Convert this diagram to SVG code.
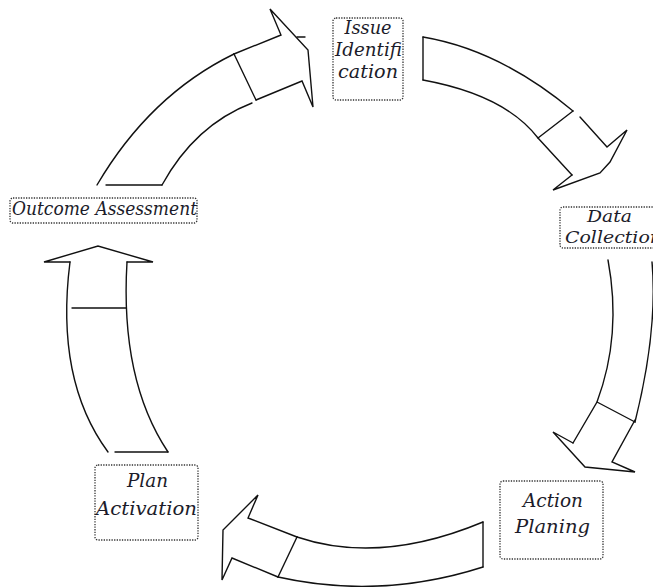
<svg xmlns="http://www.w3.org/2000/svg" width="653" height="587" viewBox="0 0 653 587">
<style>
.a{fill:none;stroke:#111;stroke-width:1.4;stroke-linejoin:miter;stroke-linecap:round}
.b{fill:#fff;stroke:#333;stroke-width:1.3;stroke-dasharray:1.3 1.3}
.t{font-family:"DejaVu Serif","Liberation Serif",serif;font-style:italic;font-size:18px;fill:#1c1c2a}
.s{font-size:17px}
</style>
<rect width="653" height="587" fill="#fff"/>
<g id="connectors">
<g id="arrow-top-left">
<path class="a" d="M97,185 Q150,95 234,54"/>
<path class="a" d="M162,185 Q195,125 252,103"/>
<path class="a" d="M106,185 L162,185"/>
<path class="a" d="M234,54 L256,100"/>
<path class="a" d="M234,54 L281,35 L270,9 L308,50 L313,107 L302,81 L256,100"/>
<path class="a" d="M297,37 L305,37"/>
</g>
<g id="arrow-top-right">
<path class="a" d="M423,37 L423,80"/>
<path class="a" d="M423,37 Q500,50 573,111"/>
<path class="a" d="M423,80 Q505,95 538,138 L572,175"/>
<path class="a" d="M538,138 L573,111"/>
<path class="a" d="M572,175 L553,190 L600,173 L610,162 L627,130 L607,147 L580,117"/>
</g>
<g id="arrow-right">
<path class="a" d="M608,260 Q622,335 597,402 L573,443"/>
<path class="a" d="M652,262 Q658,330 635,422"/>
<path class="a" d="M597,402 L635,422"/>
<path class="a" d="M573,443 L553,432 L585,467 L635,472 L612,462 L635,420"/>
</g>
<g id="arrow-bottom">
<path class="a" d="M483,522 L483,567"/>
<path class="a" d="M483,522 Q380,565 297,537"/>
<path class="a" d="M483,567 Q380,600 278,577"/>
<path class="a" d="M297,537 L278,577"/>
<path class="a" d="M297,537 L248,518 L258,495 L223,530 L222,580 L232,558 L278,577"/>
</g>
<g id="arrow-left">
<path class="a" d="M108,452 Q55,380 70,262"/>
<path class="a" d="M168,452 Q120,380 127,262"/>
<path class="a" d="M115,452 L168,452"/>
<path class="a" d="M72,308 L126,308"/>
<path class="a" d="M70,262 L44,262 L98,246 L153,262 L127,262"/>
</g>
</g>
<g id="node-issue">
<rect class="b" x="333" y="18" width="70" height="82" rx="3"/>
<text class="t" x="368" y="34" text-anchor="middle" textLength="47" lengthAdjust="spacingAndGlyphs">Issue</text>
<text class="t" x="335" y="56" textLength="67" lengthAdjust="spacingAndGlyphs">Identifi</text>
<text class="t" x="338" y="78" textLength="60" lengthAdjust="spacingAndGlyphs">cation</text>
</g>
<g id="node-data">
<rect class="b" x="560" y="207" width="110" height="41" rx="3"/>
<text class="t s" x="587" y="222" textLength="45" lengthAdjust="spacingAndGlyphs">Data</text>
<text class="t s" x="565" y="243" textLength="97" lengthAdjust="spacingAndGlyphs">Collection</text>
</g>
<g id="node-action">
<rect class="b" x="500" y="481" width="103" height="78" rx="3"/>
<text class="t" x="523" y="507" textLength="60" lengthAdjust="spacingAndGlyphs">Action</text>
<text class="t" x="515" y="533" textLength="75" lengthAdjust="spacingAndGlyphs">Planing</text>
</g>
<g id="node-plan">
<rect class="b" x="95" y="465" width="103" height="75" rx="3"/>
<text class="t" x="127" y="487" textLength="41" lengthAdjust="spacingAndGlyphs">Plan</text>
<text class="t" x="96" y="515" textLength="101" lengthAdjust="spacingAndGlyphs">Activation</text>
</g>
<g id="node-outcome">
<rect class="b" x="10" y="198" width="187" height="25" rx="3"/>
<text class="t" x="12" y="215" textLength="185" lengthAdjust="spacingAndGlyphs">Outcome Assessment</text>
</g>
</svg>
